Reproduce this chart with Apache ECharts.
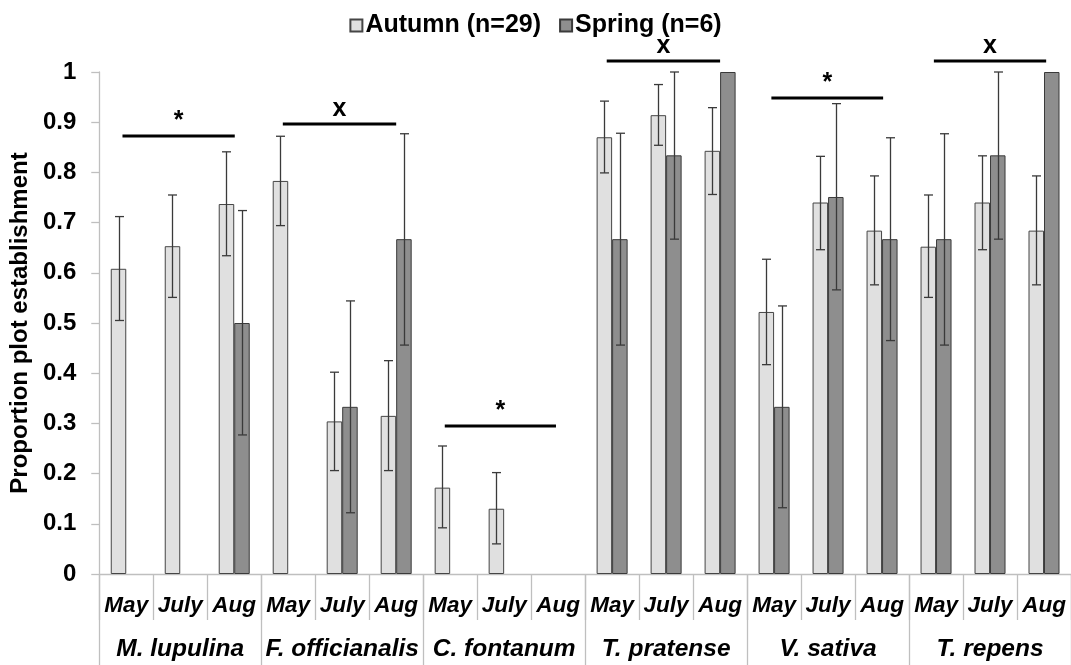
<!DOCTYPE html>
<html>
<head>
<meta charset="utf-8">
<script src="https://cdn.jsdelivr.net/npm/echarts@6/dist/echarts.min.js"></script>
<style>html,body{margin:0;padding:0;background:#fff}#c{width:1071px;height:665px}</style>
</head>
<body>
<div id="c"></div>
<script>
// ---- data ----
const species = ['M. lupulina', 'F. officianalis', 'C. fontanum', 'T. pratense', 'V. sativa', 'T. repens'];
const months = ['May', 'July', 'Aug'];
const seriesNames = ['Autumn (n=29)', 'Spring (n=6)'];
const autumn     = [0.608, 0.653, 0.737, 0.783, 0.304, 0.315, 0.172, 0.130, 0, 0.870, 0.914, 0.843, 0.522, 0.740, 0.684, 0.652, 0.740, 0.684];
const autumnHigh = [0.712, 0.755, 0.841, 0.872, 0.402, 0.425, 0.255, 0.202, 0, 0.942, 0.975, 0.929, 0.627, 0.832, 0.793, 0.755, 0.833, 0.793];
const autumnLow  = [0.505, 0.551, 0.634, 0.694, 0.206, 0.206, 0.092, 0.060, 0, 0.799, 0.854, 0.756, 0.417, 0.646, 0.576, 0.551, 0.646, 0.576];
const spring     = [0, 0, 0.500, 0, 0.333, 0.667, 0, 0, 0, 0.667, 0.834, 1.000, 0.333, 0.751, 0.667, 0.667, 0.834, 1.000];
const springHigh = [0, 0, 0.724, 0, 0.544, 0.877, 0, 0, 0, 0.878, 1.000, 1.000, 0.534, 0.937, 0.869, 0.877, 1.000, 1.000];
const springLow  = [0, 0, 0.277, 0, 0.122, 0.456, 0, 0, 0, 0.456, 0.667, 1.000, 0.132, 0.566, 0.465, 0.456, 0.667, 1.000];
// significance annotations (x in category-index units, y in data units)
const sigStart = [-0.07, 2.90, 5.90, 8.90, 11.95, 14.96];
const sigEnd   = [2.01, 5.00, 7.96, 11.00, 14.02, 17.04];
const sigLevel = [0.873, 0.897, 0.295, 1.022, 0.949, 1.022];
const sigMark  = ['*', 'x', '*', 'x', '*', 'x'];
const yTicks = [0, 0.1, 0.2, 0.3, 0.4, 0.5, 0.6, 0.7, 0.8, 0.9, 1];

// ---- chart ----
const categories = [];
species.forEach(s => months.forEach(m => categories.push(s + '|' + m)));
const FONT = '"Liberation Sans", Arial, sans-serif';
const BAR_W = 15.5;
const AXIS_C = '#bfbfbf';
const ERR_C = '#3a3a3a';

function barData(vals) {
  return vals.map(v => v === 0 ? { value: v, itemStyle: { borderWidth: 0 } } : v);
}
function errData(vals, hi, lo) {
  const out = [];
  vals.forEach((v, i) => { if (v > 0 && hi[i] > lo[i]) out.push([i, lo[i], hi[i]]); });
  return out;
}
function errSeries(name, data, side) {
  return {
    type: 'custom', name: name + ' err', xAxisIndex: 0, yAxisIndex: 0, z: 5,
    data: data, silent: true,
    renderItem: function (params, api) {
      const i = api.value(0);
      const pLo = api.coord([i, api.value(1)]);
      const pHi = api.coord([i, api.value(2)]);
      const x = Math.round(pLo[0] + side * BAR_W / 2) + 0.5;
      const cap = 4.5;
      const st = { stroke: ERR_C, lineWidth: 1.3 };
      return { type: 'group', children: [
        { type: 'line', shape: { x1: x, y1: pLo[1], x2: x, y2: pHi[1] }, style: st },
        { type: 'line', shape: { x1: x - cap, y1: pLo[1], x2: x + cap, y2: pLo[1] }, style: st },
        { type: 'line', shape: { x1: x - cap, y1: pHi[1], x2: x + cap, y2: pHi[1] }, style: st }
      ]};
    }
  };
}
const sigData = sigStart.map((s, i) => [s, sigEnd[i], sigLevel[i], sigMark[i]]);

const chart = echarts.init(document.getElementById('c'), null, { renderer: 'canvas' });
chart.setOption({
  animation: false,
  backgroundColor: '#fff',
  textStyle: { fontFamily: FONT },
  legend: {
    top: 8, left: 'center', itemWidth: 12, itemHeight: 12, itemGap: 18,
    icon: 'rect',
    textStyle: { fontFamily: FONT, fontWeight: 'bold', fontSize: 25, color: '#000', padding: [0, 0, 0, -2] },
    data: seriesNames
  },
  grid: { left: 95, right: 0, top: 72, bottom: 91, containLabel: false },
  xAxis: [
    {
      type: 'category', data: categories, position: 'bottom',
      axisLine: { onZero: false, lineStyle: { color: AXIS_C, width: 1.3 } },
      axisTick: { show: true, interval: 0, length: 46, alignWithLabel: false, lineStyle: { color: AXIS_C, width: 1.3 } },
      axisLabel: { interval: 0, margin: 20, formatter: v => v.split('|')[1],
        fontFamily: FONT, fontWeight: 'bold', fontStyle: 'italic', fontSize: 22.5, color: '#000' }
    },
    {
      type: 'category', data: species, position: 'bottom', gridIndex: 0,
      axisLine: { show: false, onZero: false },
      axisTick: { show: true, interval: 0, length: 91, alignWithLabel: false, lineStyle: { color: AXIS_C, width: 1.3 } },
      axisLabel: { interval: 0, margin: 63,
        fontFamily: FONT, fontWeight: 'bold', fontStyle: 'italic', fontSize: 24.5, color: '#000' }
    },
    {
      type: 'value', min: -0.5, max: categories.length - 0.5, show: false, gridIndex: 0
    }
  ],
  yAxis: {
    type: 'value', min: 0, max: 1, interval: 0.1,
    name: 'Proportion plot establishment', nameLocation: 'middle', nameGap: 60,
    nameTextStyle: { fontFamily: FONT, fontWeight: 'bold', fontSize: 24, color: '#000' },
    axisLine: { show: true, onZero: false, lineStyle: { color: AXIS_C, width: 1.3 } },
    axisTick: { show: true, length: 8, lineStyle: { color: AXIS_C, width: 1.3 } },
    splitLine: { show: false },
    axisLabel: { margin: 23, fontFamily: FONT, fontWeight: 'bold', fontSize: 24, color: '#000',
      formatter: v => { const t = yTicks.find(k => Math.abs(k - v) < 1e-6); return String(t !== undefined ? t : v); } }
  },
  series: [
    {
      name: seriesNames[0], type: 'bar', xAxisIndex: 0, barWidth: BAR_W, barGap: '0%',
      itemStyle: { color: '#e0e0e0', borderColor: '#454545', borderWidth: 1 },
      data: barData(autumn)
    },
    {
      name: seriesNames[1], type: 'bar', xAxisIndex: 0, barWidth: BAR_W, barGap: '0%',
      itemStyle: { color: '#8e8e8e', borderColor: '#3a3a3a', borderWidth: 1 },
      data: barData(spring)
    },
    errSeries('Autumn', errData(autumn, autumnHigh, autumnLow), -1),
    errSeries('Spring', errData(spring, springHigh, springLow), 1),
    {
      type: 'custom', name: 'sig', xAxisIndex: 2, yAxisIndex: 0, z: 6, silent: true, clip: false,
      data: sigData,
      renderItem: function (params, api) {
        const a = api.coord([api.value(0), api.value(2)]);
        const b = api.coord([api.value(1), api.value(2)]);
        const y = Math.round(a[1]);
        return { type: 'group', children: [
          { type: 'line', shape: { x1: a[0], y1: y, x2: b[0], y2: y }, style: { stroke: '#000', lineWidth: 3 } },
          { type: 'text', x: (a[0] + b[0]) / 2, y: y - 2,
            style: { text: sigData[params.dataIndex][3], fontFamily: FONT, fontWeight: 'bold', fontSize: 25,
              fill: '#000', align: 'center', verticalAlign: 'bottom' } }
        ]};
      }
    }
  ]
});
</script>
</body>
</html>
